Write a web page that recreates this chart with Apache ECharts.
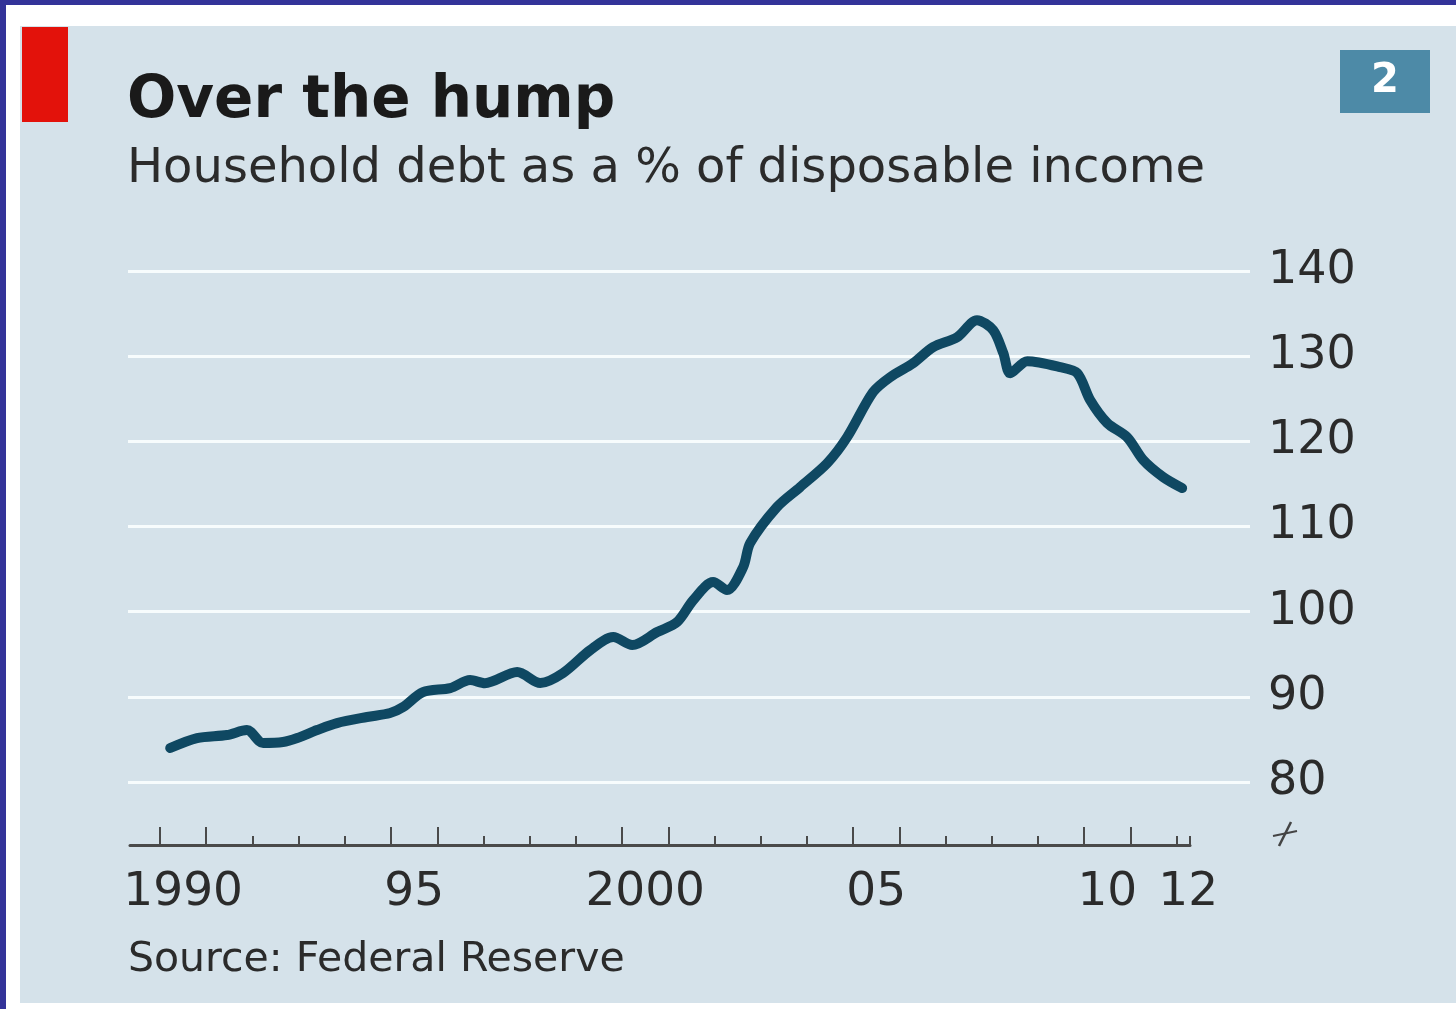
<!DOCTYPE html>
<html>
<head>
<meta charset="utf-8">
<script src="https://cdn.jsdelivr.net/npm/echarts@6/dist/echarts.min.js"></script>
<style>
html,body{margin:0;padding:0;background:#fff;}
#c{width:1456px;height:1009px;}
</style>
</head>
<body>
<div id="c"></div>
<script>
// Data (year as decimal, % of disposable income)
const years = [1990.22,1990.80,1991.45,1991.88,1992.23,1992.66,1992.97,1993.40,1993.83,1994.48,1994.98,1995.26,1995.69,1996.28,1996.71,1997.03,1997.73,1998.23,1998.72,1999.31,1999.81,2000.22,2000.76,2001.19,2001.54,2001.97,2002.27,2002.62,2002.77,2003.35,2003.85,2004.44,2004.87,2005.43,2005.80,2006.30,2006.73,2007.25,2007.68,2008.03,2008.25,2008.40,2008.77,2009.48,2009.85,2010.13,2010.50,2010.93,2011.28,2011.71,2012.12];
const debt = [83.99,85.16,85.52,86.10,84.58,84.69,85.16,86.10,86.92,87.63,88.10,88.80,90.56,91.03,91.97,91.6,92.91,91.62,92.79,95.49,97.02,96.08,97.61,98.78,101.36,103.47,102.54,105.23,108.05,112.28,114.62,117.44,120.49,125.77,127.53,129.18,131.06,132.23,134.23,133.05,130.35,128.00,129.41,128.71,128.00,124.84,122.14,120.49,117.79,115.80,114.51];
const yTicks = [80, 90, 100, 110, 120, 130, 140];
const xLabelPos = [1990.5, 1995.5, 2000.5, 2005.5, 2010.5, 2012.25];
const xLabelText = ['1990', '95', '2000', '05', '10', '12'];
const yearTicks = [1990,1991,1992,1993,1994,1995,1996,1997,1998,1999,2000,2001,2002,2003,2004,2005,2006,2007,2008,2009,2010,2011,2012,2012.29];
const tallTicks = [1990,1991,1995,1996,2000,2001,2005,2006,2010,2011];

const X_MIN = 1989.35, X_MAX = 2012.29;
const FONT = '"DejaVu Sans", sans-serif';
const BG = '#d5e2ea';
const TXT = '#2b2b2b';

const chart = echarts.init(document.getElementById('c'), null, {renderer: 'canvas'});
const labelMap = {};
xLabelPos.forEach((p, i) => { labelMap[p] = xLabelText[i]; });

chart.setOption({
  backgroundColor: '#ffffff',
  animation: false,
  graphic: [
    {type: 'rect', z: -20, shape: {x: 0, y: 0, width: 1456, height: 5}, style: {fill: '#333399'}},
    {type: 'rect', z: -20, shape: {x: 0, y: 0, width: 6, height: 1009}, style: {fill: '#333399'}},
    {type: 'rect', z: -20, shape: {x: 20, y: 26, width: 1436, height: 977}, style: {fill: BG}},
    {type: 'rect', z: -19, shape: {x: 22, y: 27, width: 46, height: 95}, style: {fill: '#e3120b'}},
    {type: 'text', z: 10, style: {text: 'Over the hump', x: 127, y: 102, textVerticalAlign: 'middle', font: 'bold 58px ' + FONT, fill: '#1a1a1a'}},
    {type: 'text', z: 10, style: {text: 'Household debt as a % of disposable income', x: 127, y: 170, textVerticalAlign: 'middle', font: '48px ' + FONT, fill: TXT}},
    {type: 'text', z: 10, style: {text: 'Source: Federal Reserve', x: 128, y: 960, textVerticalAlign: 'middle', font: '41px ' + FONT, fill: TXT}},
    {type: 'rect', z: 5, shape: {x: 1340, y: 50, width: 90, height: 63}, style: {fill: '#4d8aa7'}},
    {type: 'text', z: 10, style: {text: '2', x: 1385, y: 82, textAlign: 'center', textVerticalAlign: 'middle', font: 'bold 40px ' + FONT, fill: '#ffffff'}},
    {type: 'polyline', z: 10, shape: {points: [[1279, 846], [1291, 822]]}, style: {stroke: '#444', lineWidth: 2.5}},
    {type: 'polyline', z: 10, shape: {points: [[1273, 836], [1297, 831]]}, style: {stroke: '#444', lineWidth: 2}}
  ],
  grid: [
    {left: 128, right: 206, top: 271, bottom: 227},
    {left: 130, right: 266, top: 271, bottom: 227}
  ],
  xAxis: [
    {gridIndex: 0, type: 'value', min: 0, max: 1, show: false},
    {
      gridIndex: 1, type: 'value', min: X_MIN, max: X_MAX, position: 'bottom', offset: 63,
      axisLine: {show: true, lineStyle: {color: '#4a4a4a', width: 3}},
      axisTick: {show: true, inside: true, length: 9, customValues: yearTicks, lineStyle: {color: '#4a4a4a', width: 2}},
      axisLabel: {show: true, customValues: xLabelPos, margin: 24, color: TXT, fontFamily: FONT, fontSize: 47,
        formatter: v => labelMap[v] !== undefined ? labelMap[v] : ''},
      splitLine: {show: false}
    },
    {
      gridIndex: 1, type: 'value', min: X_MIN, max: X_MAX, position: 'bottom', offset: 63,
      axisLine: {show: false},
      axisTick: {show: true, inside: true, length: 18, customValues: tallTicks, lineStyle: {color: '#4a4a4a', width: 2}},
      axisLabel: {show: false},
      splitLine: {show: false}
    }
  ],
  yAxis: [
    {
      gridIndex: 0, type: 'value', min: 80, max: 140, interval: 10, position: 'right',
      axisLine: {show: false}, axisTick: {show: false},
      axisLabel: {show: true, margin: 18, align: 'left', color: TXT, fontFamily: FONT, fontSize: 46,
        customValues: yTicks},
      splitLine: {show: true, lineStyle: {color: '#f7fcfd', width: 3}}
    },
    {gridIndex: 1, type: 'value', min: 80, max: 140, show: false}
  ],
  series: [{
    type: 'line',
    xAxisIndex: 1, yAxisIndex: 1,
    data: years.map((y, i) => [y, debt[i]]),
    showSymbol: false,
    smooth: 0.3,
    lineStyle: {color: '#0f4862', width: 10, cap: 'round', join: 'round'},
    z: 3
  }]
});
</script>
</body>
</html>
